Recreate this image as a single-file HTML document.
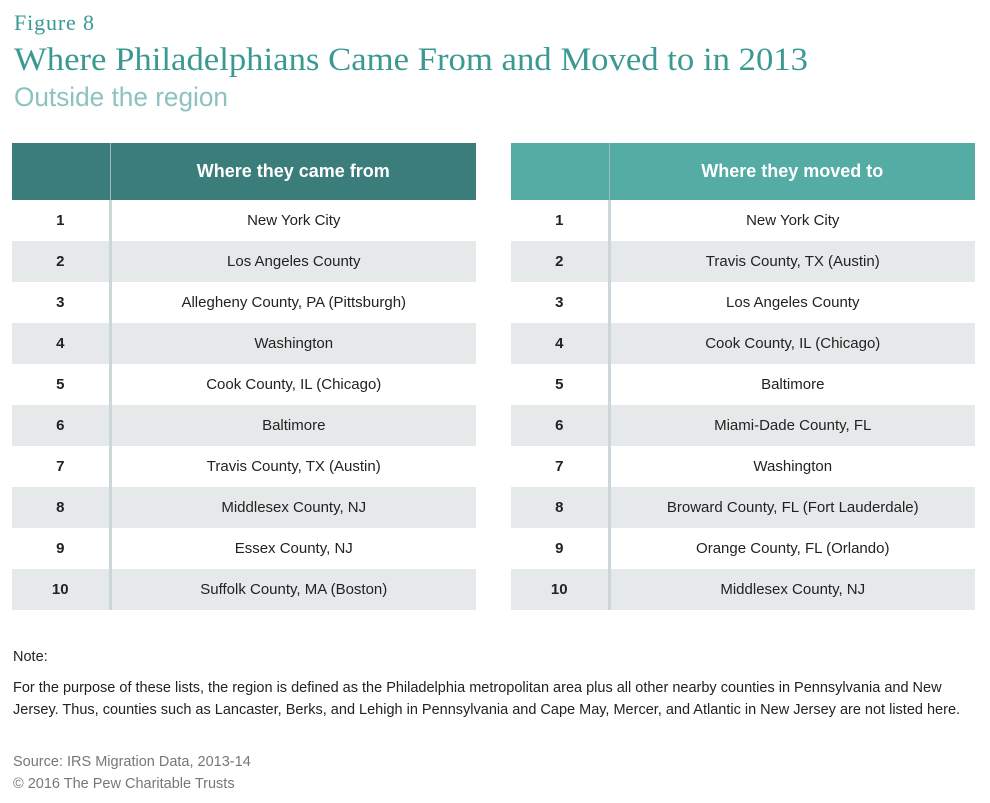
<!DOCTYPE html>
<html><head><meta charset="utf-8">
<style>
body{margin:0;width:990px;height:803px;background:#fff;font-family:"Liberation Sans",sans-serif;position:relative;overflow:hidden}
.abs{position:absolute}
table{position:absolute;border-collapse:collapse;table-layout:fixed}
td,th{padding:0;text-align:center;font-size:15px;color:#222}
th{height:57px;color:#fff;font-size:18px;font-weight:bold}
td{height:41px}
tr.alt td{background:#e6e9ea}
td.num{font-weight:bold;border-right:3px solid #cdd6d8}
th.numh{border-right:1px solid #9bbcbb}
.note{font-size:14.5px;color:#222;line-height:22px}
</style></head><body>
<svg class="abs" style="left:0;top:0" width="990" height="120">
<text x="14" y="30" font-family="Liberation Serif" font-size="22" fill="#3a9a93" textLength="80">Figure 8</text>
<text x="14" y="70" font-family="Liberation Serif" font-size="33" fill="#3a9a93" textLength="794" lengthAdjust="spacingAndGlyphs">Where Philadelphians Came From and Moved to in 2013</text>
<text x="14" y="106" font-family="Liberation Sans" font-size="27" fill="#8cc3bf" textLength="214" lengthAdjust="spacingAndGlyphs">Outside the region</text>
</svg>
<table id="t1" style="left:12px;top:143px;width:464px"></table>
<table id="t2" style="left:511px;top:143px;width:464px"></table>
<div class="abs note" style="left:13px;top:646px">Note:</div>
<div class="abs note" style="left:13px;top:677px;width:960px">For the purpose of these lists, the region is defined as the Philadelphia metropolitan area plus all other nearby counties in Pennsylvania and New Jersey. Thus, counties such as Lancaster, Berks, and Lehigh in Pennsylvania and Cape May, Mercer, and Atlantic in New Jersey are not listed here.</div>
<div class="abs note" style="left:13px;top:751px;color:#777">Source: IRS Migration Data, 2013-14</div>
<div class="abs note" style="left:13px;top:773px;color:#777">© 2016 The Pew Charitable Trusts</div>
<script>
const cameFrom=["New York City","Los Angeles County","Allegheny County, PA (Pittsburgh)","Washington","Cook County, IL (Chicago)","Baltimore","Travis County, TX (Austin)","Middlesex County, NJ","Essex County, NJ","Suffolk County, MA (Boston)"];
const movedTo=["New York City","Travis County, TX (Austin)","Los Angeles County","Cook County, IL (Chicago)","Baltimore","Miami-Dade County, FL","Washington","Broward County, FL (Fort Lauderdale)","Orange County, FL (Orlando)","Middlesex County, NJ"];
function build(id,title,color,items){
  const t=document.getElementById(id);
  const cg=document.createElement('colgroup');
  cg.innerHTML='<col style="width:98px"><col>';
  t.appendChild(cg);
  const h=document.createElement('tr');
  
  
  const h1=document.createElement('th');h1.className='numh';h1.style.background=color;
  
  
  const h2=document.createElement('th');h2.style.background=color;h2.textContent=title;
  
  
  h.appendChild(h1);h.appendChild(h2);t.appendChild(h);
  items.forEach((s,i)=>{
    const r=document.createElement('tr');if(i%2)r.className='alt';
    
    
    const a=document.createElement('td');a.className='num';a.textContent=i+1;
    
    
    const b=document.createElement('td');b.textContent=s;
    
    
    r.appendChild(a);r.appendChild(b);t.appendChild(r);
  });
}
build('t1','Where they came from','#3a7d7b',cameFrom);
build('t2','Where they moved to','#55aca5',movedTo);
</script>
</body></html>
